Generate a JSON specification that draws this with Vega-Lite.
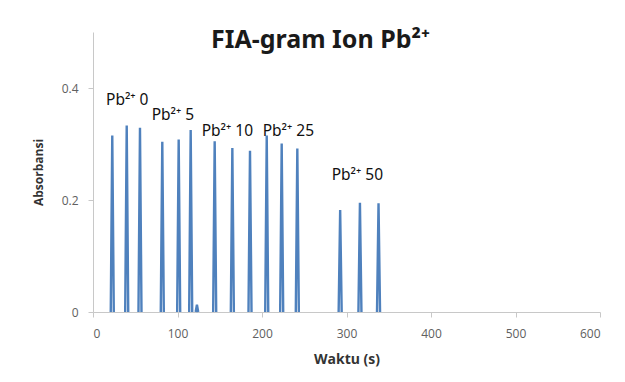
{
  "$schema": "https://vega.github.io/schema/vega-lite/v6.json",
  "width": 507,
  "height": 280,
  "autosize": {"type": "none"},
  "padding": {"left": 93, "top": 32, "right": 25, "bottom": 70},
  "background": "white",
  "config": {
    "view": {"stroke": null},
    "font": "Noto Sans",
    "axis": {
      "grid": false,
      "domainColor": "#c8c8c8",
      "tickColor": "#c8c8c8",
      "labelColor": "#606060",
      "labelFont": "Open Sans",
      "labelFontSize": 12,
      "titleFont": "Open Sans",
      "titleFontWeight": "bold",
      "titleColor": "#333333"
    }
  },
  "title": {
    "text": "FIA-gram Ion Pb²⁺",
    "font": "Noto Sans",
    "fontSize": 25,
    "fontWeight": "bold",
    "color": "#1a1a1a",
    "anchor": "middle",
    "baseline": "alphabetic",
    "offset": -20,
    "dy": 21,
    "dx": -26
  },
  "datasets": {
    "peaks": [
      {"peak": 1, "t": 21.0, "a": 0}, {"peak": 1, "t": 22.8, "a": 0.315}, {"peak": 1, "t": 24.6, "a": 0},
      {"peak": 2, "t": 38.1, "a": 0}, {"peak": 2, "t": 39.9, "a": 0.333}, {"peak": 2, "t": 41.7, "a": 0},
      {"peak": 3, "t": 53.8, "a": 0}, {"peak": 3, "t": 55.6, "a": 0.329}, {"peak": 3, "t": 57.4, "a": 0},
      {"peak": 4, "t": 80.2, "a": 0}, {"peak": 4, "t": 82.0, "a": 0.304}, {"peak": 4, "t": 83.8, "a": 0},
      {"peak": 5, "t": 99.6, "a": 0}, {"peak": 5, "t": 101.4, "a": 0.308}, {"peak": 5, "t": 103.2, "a": 0},
      {"peak": 6, "t": 113.8, "a": 0}, {"peak": 6, "t": 115.6, "a": 0.325}, {"peak": 6, "t": 117.4, "a": 0},
      {"peak": 7, "t": 121.5, "a": 0}, {"peak": 7, "t": 123.0, "a": 0.013}, {"peak": 7, "t": 124.5, "a": 0},
      {"peak": 8, "t": 142.2, "a": 0}, {"peak": 8, "t": 144.0, "a": 0.305}, {"peak": 8, "t": 145.8, "a": 0},
      {"peak": 9, "t": 163.1, "a": 0}, {"peak": 9, "t": 164.9, "a": 0.293}, {"peak": 9, "t": 166.7, "a": 0},
      {"peak": 10, "t": 184.0, "a": 0}, {"peak": 10, "t": 185.8, "a": 0.288}, {"peak": 10, "t": 187.6, "a": 0},
      {"peak": 11, "t": 203.8, "a": 0}, {"peak": 11, "t": 205.6, "a": 0.315}, {"peak": 11, "t": 207.4, "a": 0},
      {"peak": 12, "t": 221.5, "a": 0}, {"peak": 12, "t": 223.3, "a": 0.301}, {"peak": 12, "t": 225.1, "a": 0},
      {"peak": 13, "t": 240.0, "a": 0}, {"peak": 13, "t": 241.8, "a": 0.292}, {"peak": 13, "t": 243.6, "a": 0},
      {"peak": 14, "t": 290.7, "a": 0}, {"peak": 14, "t": 292.5, "a": 0.182}, {"peak": 14, "t": 294.3, "a": 0},
      {"peak": 15, "t": 314.1, "a": 0}, {"peak": 15, "t": 315.9, "a": 0.195}, {"peak": 15, "t": 317.7, "a": 0},
      {"peak": 16, "t": 336.1, "a": 0}, {"peak": 16, "t": 337.9, "a": 0.194}, {"peak": 16, "t": 339.7, "a": 0}
    ],
    "labels": [
      {"t": 15.4, "a": 0.379, "label": "Pb²⁺ 0"},
      {"t": 69.4, "a": 0.352, "label": "Pb²⁺ 5"},
      {"t": 128.6, "a": 0.324, "label": "Pb²⁺ 10"},
      {"t": 200.8, "a": 0.324, "label": "Pb²⁺ 25"},
      {"t": 282.5, "a": 0.245, "label": "Pb²⁺ 50"}
    ]
  },
  "layer": [
    {
      "data": {"name": "peaks"},
      "mark": {"type": "line", "color": "#4f81bd", "strokeWidth": 2.4},
      "encoding": {
        "x": {
          "field": "t", "type": "quantitative",
          "scale": {"domain": [0, 600], "nice": false},
          "axis": {
            "values": [0, 100, 200, 300, 400, 500, 600],
            "title": "Waktu (s)",
            "titleFontSize": 14,
            "titlePadding": 13,
            "tickSize": 5,
            "labelPadding": 11
          }
        },
        "y": {
          "field": "a", "type": "quantitative",
          "scale": {"domain": [0, 0.5], "nice": false},
          "axis": {
            "values": [0, 0.2, 0.4],
            "format": "~g",
            "title": "Absorbansi",
            "titleFontSize": 12,
            "titleX": -55,
            "titleY": 140,
            "titleBaseline": "middle",
            "tickSize": 5,
            "labelPadding": 10
          }
        },
        "detail": {"field": "peak", "type": "nominal"}
      }
    },
    {
      "data": {"name": "labels"},
      "mark": {"type": "text", "align": "left", "baseline": "middle", "fontSize": 15.5, "font": "Noto Sans", "color": "#111111"},
      "encoding": {
        "x": {"field": "t", "type": "quantitative"},
        "y": {"field": "a", "type": "quantitative"},
        "text": {"field": "label", "type": "nominal"}
      }
    }
  ]
}
